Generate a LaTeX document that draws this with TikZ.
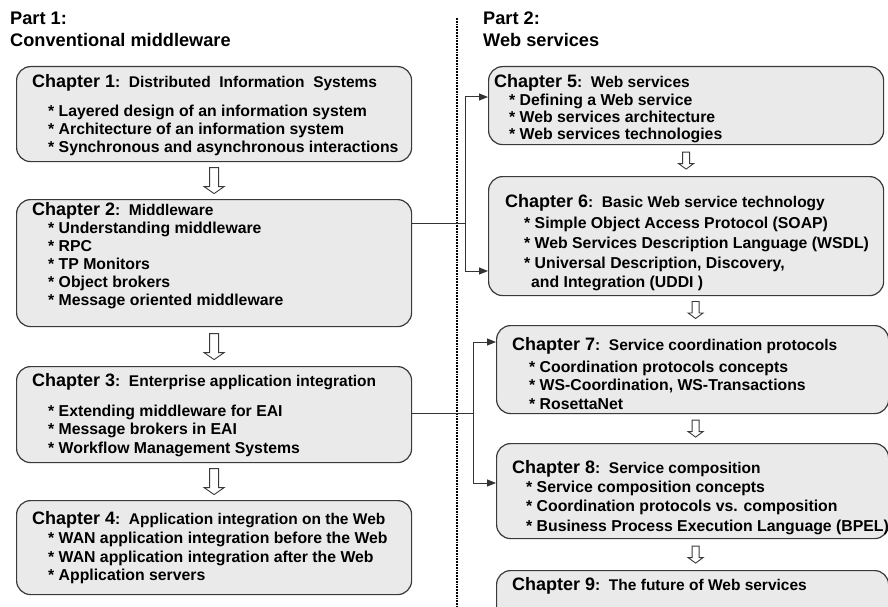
\documentclass[tikz,border=0pt]{standalone}
\usepackage{fontspec}
\setmainfont{Liberation Sans}
\usetikzlibrary{calc,arrows.meta}
\definecolor{boxfill}{HTML}{EAEAEA}
\definecolor{boxline}{HTML}{3A3A3A}
\begin{document}
\begin{tikzpicture}[x=1pt,y=-1pt,
  box/.style={draw=boxline,fill=boxfill,line width=1.2pt,rounded corners=14pt,anchor=north west,inner sep=0pt},
  head/.style={anchor=base west,inner sep=0pt,font=\fontsize{18}{20}\selectfont\bfseries},
  item/.style={anchor=base west,inner sep=0pt,font=\fontsize{15.8}{18}\selectfont\bfseries},
  part/.style={anchor=base west,inner sep=0pt,font=\fontsize{18.2}{20}\selectfont\bfseries},
  conn/.style={draw=black!80,line width=1pt},
  arr/.style={conn,-{Triangle[length=9pt,width=7pt]}},
  dotline/.style={line width=2.6pt,dash pattern=on 1.8pt off 1pt,black},
  bigarrow/.pic={\draw[boxline,fill=white,line width=0.9pt] (-4.5,-13) -- (4.5,-13) -- (4.5,6) -- (10,6) -- (0,13) -- (-10,6) -- (-4.5,6) -- cycle;},
  smallarrow/.pic={\draw[boxline,fill=white,line width=0.9pt] (-3.5,-8.5) -- (3.5,-8.5) -- (3.5,3) -- (7.5,3) -- (0,8.5) -- (-7.5,3) -- (-3.5,3) -- cycle;}
]
\useasboundingbox (0,0) rectangle (888,607);
\clip (0,0) rectangle (888,607);

% part labels
\node[part] (p1a) at (10,25) {Part 1:};
\node[part] (p1b) at (10,47) {Conventional middleware};
\node[part] (p2a) at (483,25) {Part 2:};
\node[part] (p2b) at (483,47) {Web services};

% dotted separator
\coordinate (dtop) at (457,18);
\coordinate (dbot) at (457,610);
\draw[dotline] (dtop) -- (dbot);

% boxes
\node[box,minimum width=395pt,minimum height=95pt] (c1) at (16,66) {};
\node[box,minimum width=395pt,minimum height=127pt] (c2) at (16,199) {};
\node[box,minimum width=395pt,minimum height=96pt] (c3) at (16,366) {};
\node[box,minimum width=395pt,minimum height=94pt] (c4) at (16,500) {};
\node[box,minimum width=395pt,minimum height=78pt] (c5) at (488,66) {};
\node[box,minimum width=395pt,minimum height=119pt] (c6) at (488,176) {};
\node[box,minimum width=392pt,minimum height=88pt] (c7) at (496,325) {};
\node[box,minimum width=392pt,minimum height=95pt] (c8) at (496,443) {};
\node[box,minimum width=392pt,minimum height=70pt] (c9) at (496,570) {};

% chapter 1
\node[head] (c1h) at (32,88) {Chapter 1\fontsize{15.5}{18}\selectfont:\ \ Distributed\ \ Information\ \ Systems};
\node[item] (c1i1) at (48,116.5) {* Layered design of an information system};
\node[item] (c1i2) at (48,134.5) {* Architecture of an information system};
\node[item] (c1i3) at (48,152.5) {* Synchronous and asynchronous interactions};

% chapter 2
\node[head] (c2h) at (32,215) {Chapter 2\fontsize{15.5}{18}\selectfont:\ \ Middleware};
\node[item] (c2i1) at (48,233) {* Understanding middleware};
\node[item] (c2i2) at (48,251) {* RPC};
\node[item] (c2i3) at (48,269) {* TP Monitors};
\node[item] (c2i4) at (48,287) {* Object brokers};
\node[item] (c2i5) at (48,305) {* Message oriented middleware};

% chapter 3
\node[head] (c3h) at (32,386) {Chapter 3\fontsize{15.5}{18}\selectfont:\ \ Enterprise application integration};
\node[item] (c3i1) at (48,416) {* Extending middleware for EAI};
\node[item] (c3i2) at (48,434.5) {* Message brokers in EAI};
\node[item] (c3i3) at (48,453) {* Workflow Management Systems};

% chapter 4
\node[head] (c4h) at (32,524) {Chapter 4\fontsize{15.5}{18}\selectfont:\ \ Application integration on the Web};
\node[item] (c4i1) at (48,543.5) {* WAN application integration before the Web};
\node[item] (c4i2) at (48,562) {* WAN application integration after the Web};
\node[item] (c4i3) at (48,580.5) {* Application servers};

% chapter 5
\node[head] (c5h) at (494,88) {Chapter 5\fontsize{15.5}{18}\selectfont:\ \ Web services};
\node[item] (c5i1) at (509,106) {* Defining a Web service};
\node[item] (c5i2) at (509,123) {* Web services architecture};
\node[item] (c5i3) at (509,139.5) {* Web services technologies};

% chapter 6
\node[head] (c6h) at (505,207) {Chapter 6\fontsize{15.5}{18}\selectfont:\ \ Basic Web service technology};
\node[item] (c6i1) at (524,228) {* Simple Object Access Protocol (SOAP)};
\node[item] (c6i2) at (524,248) {* Web Services Description Language (WSDL)};
\node[item] (c6i3) at (524,268) {* Universal Description, Discovery,};
\node[item] (c6i4) at (531,287) {and Integration (UDDI )};

% chapter 7
\node[head] (c7h) at (512,350) {Chapter 7\fontsize{15.5}{18}\selectfont:\ \ Service coordination protocols};
\node[item] (c7i1) at (529,372) {* Coordination protocols concepts};
\node[item] (c7i2) at (529,390.5) {* WS-Coordination, WS-Transactions};
\node[item] (c7i3) at (529,409) {* RosettaNet};

% chapter 8
\node[head] (c8h) at (512,473) {Chapter 8\fontsize{15.5}{18}\selectfont:\ \ Service composition};
\node[item] (c8i1) at (526,492) {* Service composition concepts};
\node[item] (c8i2) at (526,511.5) {* Coordination protocols vs. composition};
\node[item] (c8i3) at (526,531) {* Business Process Execution Language (BPEL)};

% chapter 9
\node[head] (c9h) at (512,590) {Chapter 9\fontsize{15.5}{18}\selectfont:\ \ The future of Web services};

% hollow arrows
\pic at ($(c1.south)!0.5!(c2.north)$) {bigarrow};
\pic at ($(c2.south)!0.5!(c3.north)$) {bigarrow};
\pic at ($(c3.south)!0.5!(c4.north)$) {bigarrow};
\pic at ($(c5.south)!0.5!(c6.north)$) {smallarrow};
\pic at ($(c7.north)+(3,-15)$) {smallarrow};
\pic at ($(c7.south)!0.5!(c8.north)+(3,0)$) {smallarrow};
\pic at ($(c8.south)!0.5!(c9.north)+(3,0)$) {smallarrow};

% connectors
\coordinate (j1) at (465,223);
\coordinate (j1t) at (465,97);
\coordinate (j1b) at (465,271);
\draw[conn] (c2.east |- j1) -- (j1);
\draw[arr] (j1) -- (j1t) -- (c5.west |- j1t);
\draw[arr] (j1) -- (j1b) -- (c6.west |- j1b);

\coordinate (j2) at (473,413);
\coordinate (j2t) at (473,342);
\coordinate (j2b) at (473,483);
\draw[conn] (c3.east |- j2) -- (j2);
\draw[arr] (j2) -- (j2t) -- (c7.west |- j2t);
\draw[arr] (j2) -- (j2b) -- (c8.west |- j2b);
\end{tikzpicture}
\end{document}
